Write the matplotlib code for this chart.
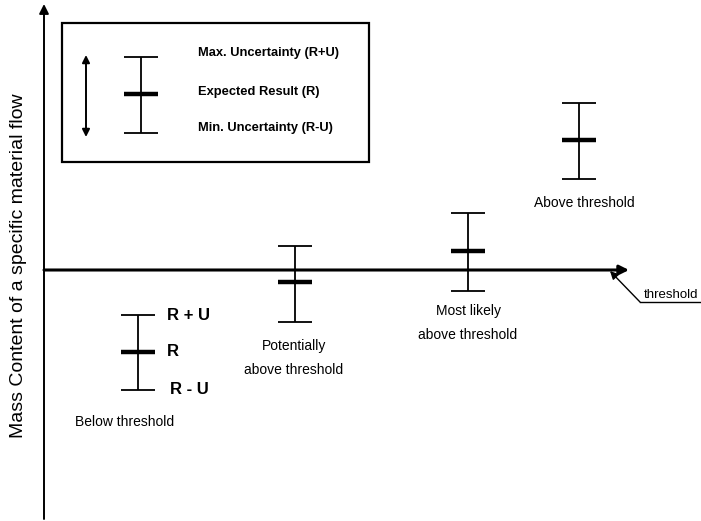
import matplotlib
matplotlib.use("Agg")
import matplotlib.pyplot as plt

plt.rcParams['font.family'] = ['Liberation Sans', 'DejaVu Sans']

# ---- data (value scale: threshold = 0) ----
categories = ["Below threshold", "Potentially\nabove threshold",
              "Most likely\nabove threshold", "Above threshold"]
expected = [-82, -12, 19, 130]
upper = [-45, 24, 57, 167]
lower = [-120, -52, -21, 91]
threshold = 0
y_label = "Mass Content of a specific material flow"
legend_texts = ["Max. Uncertainty (R+U)", "Expected Result (R)", "Min. Uncertainty (R-U)"]
legend_bar = [137, 176, 213]   # lower, expected, upper of legend sample (value scale)
side_texts = ["R + U", "R", "R - U"]

# ---- layout ----
W, H = 701, 521
fig = plt.figure(figsize=(W / 100, H / 100), dpi=100)
ax = fig.add_axes([0, 0, 1, 1])
ax.set_xlim(0, W)
ax.set_ylim(-251, 270)
ax.axis('off')

xpos = [138, 295, 468, 579]
half = 17

# y axis with arrow
ax.annotate("", xy=(44, 266), xytext=(44, -249),
            arrowprops=dict(arrowstyle='-|>', lw=1.4, color='black',
                            mutation_scale=14, shrinkA=0, shrinkB=0))
# threshold line with arrow
ax.annotate("", xy=(629, threshold), xytext=(44, threshold),
            arrowprops=dict(arrowstyle='-|>', lw=2.2, color='black',
                            mutation_scale=14, shrinkA=0, shrinkB=0))

# error bars
for x, lo, mid, hi in zip(xpos, lower, expected, upper):
    ax.vlines(x, lo, hi, color='black', lw=1.3)
    ax.hlines([lo, hi], x - half, x + half, color='black', lw=1.3)
    ax.hlines(mid, x - half, x + half, color='black', lw=3.2)

# category labels
label_pos = [(125, -152), (294, -88), (468, -53), (584, 67)]
for (lx, ly), txt in zip(label_pos, categories):
    ax.text(lx, ly, txt, ha='center', va='center', fontsize=10,
            linespacing=1.9)

# R+U / R / R-U labels next to first bar
for txt, val, dx in zip(side_texts, [upper[0], expected[0], lower[0]], [167, 167, 170]):
    ax.text(dx, val, txt, ha='left', va='center', fontsize=12, fontweight='bold')

# legend box
ax.add_patch(plt.Rectangle((62, 270 - 162), 369 - 62, 162 - 23, fill=False,
                           lw=1.6, edgecolor='black'))
lx = 141
ax.vlines(lx, legend_bar[0], legend_bar[2], color='black', lw=1.3)
ax.hlines([legend_bar[0], legend_bar[2]], lx - half, lx + half, color='black', lw=1.3)
ax.hlines(legend_bar[1], lx - half, lx + half, color='black', lw=3.2)
ax.annotate("", xy=(86, 215), xytext=(86, 133),
            arrowprops=dict(arrowstyle='<|-|>', lw=1.4, color='black',
                            mutation_scale=11, shrinkA=0, shrinkB=0))
for txt, val in zip(legend_texts, [217, 178, 142]):
    ax.text(198, val, txt, ha='left', va='center', fontsize=9.3, fontweight='bold')

# threshold annotation
ax.plot([640, 701], [-32, -32], color='black', lw=1.0)
ax.annotate("", xy=(610, -1), xytext=(640, -32),
            arrowprops=dict(arrowstyle='-|>', lw=1.0, color='black',
                            mutation_scale=12, shrinkA=0, shrinkB=0))
ax.text(644, -25, "threshold", ha='left', va='center', fontsize=9.5)

# y label
ax.text(19, 4, y_label, rotation=90, ha='center', va='center', fontsize=14)

fig.savefig("out.png", dpi=100)
